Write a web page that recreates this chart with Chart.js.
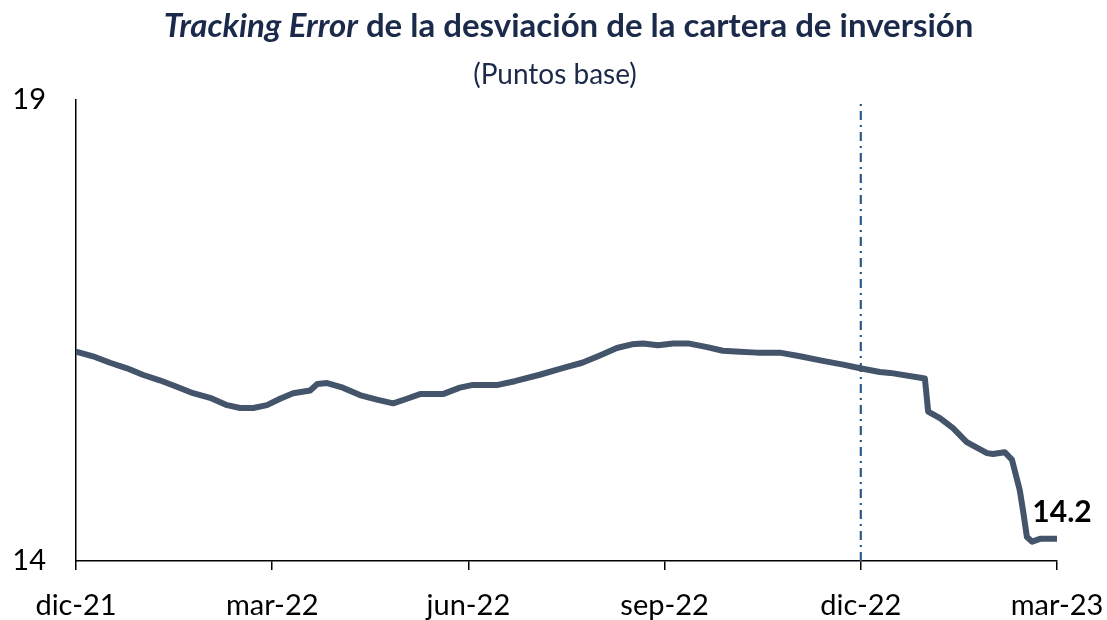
<!DOCTYPE html>
<html>
<head>
<meta charset="utf-8">
<script src="https://cdn.jsdelivr.net/npm/chart.js@4"></script>
<style>
  html, body { margin: 0; padding: 0; background: #fff; }
  #wrap { position: relative; width: 1107px; height: 620px; }
  #title {
    position: absolute; left: 76px; width: 985px; top: 4px;
    text-align: center; font-family: Lato, 'Open Sans', sans-serif;
    font-weight: bold; font-size: 33px; color: #1b2a4a; white-space: nowrap;
  }
  #subtitle {
    position: absolute; left: 0; width: 1110px; top: 56px;
    text-align: center; font-family: Lato, 'Open Sans', sans-serif;
    font-size: 28px; color: #1b2a4a;
  }
  canvas { position: absolute; left: 0; top: 0; }
</style>
</head>
<body>
<div id="wrap">
  <canvas id="teChart" width="1107" height="620"></canvas>
  <div id="title"><i>Tracking Error</i> de la desviación de la cartera de inversión</div>
  <div id="subtitle">(Puntos base)</div>
</div>
<script>
// x position in months counted from dic-21
const monthPos = [0, 0.26, 0.52, 0.78, 1.02, 1.28, 1.54, 1.79, 2.05, 2.31, 2.51, 2.71, 2.92, 3.12, 3.32,
  3.58, 3.69, 3.84, 4.08, 4.34, 4.60, 4.85, 5.06, 5.26, 5.61, 5.87, 6.07, 6.45, 6.71, 7.09, 7.48,
  7.74, 8.01, 8.27, 8.50, 8.67, 8.90, 9.13, 9.36, 9.65, 9.89, 10.15, 10.41, 10.76, 11.07, 11.42,
  11.73, 11.99, 12.29, 12.45, 12.98, 13.03, 13.21, 13.41, 13.62, 13.93, 14.02, 14.20, 14.31,
  14.43, 14.48, 14.54, 14.62, 14.74, 15.0];
const teValues = [16.27, 16.22, 16.15, 16.09, 16.02, 15.96, 15.89, 15.82, 15.77, 15.69, 15.66, 15.66,
  15.69, 15.76, 15.82, 15.85, 15.92, 15.93, 15.88, 15.80, 15.75, 15.71, 15.76, 15.81, 15.81, 15.88,
  15.91, 15.91, 15.95, 16.02, 16.10, 16.15, 16.23, 16.31, 16.35, 16.36, 16.34, 16.36, 16.36, 16.32,
  16.28, 16.27, 16.26, 16.26, 16.22, 16.17, 16.13, 16.09, 16.05, 16.04, 15.98, 15.62, 15.55, 15.44,
  15.29, 15.17, 15.16, 15.18, 15.10, 14.77, 14.55, 14.26, 14.21, 14.24, 14.24];
const xTickLabels = ['dic-21', 'mar-22', 'jun-22', 'sep-22', 'dic-22', 'mar-23'];
const yTickValues = [14, 19];
const markerMonth = 12;   // dic-22 reference line
const lastLabel = '14.2';

const fontFamily = "Lato, 'Open Sans', sans-serif";

const endLabelPlugin = {
  id: 'endLabel',
  afterDatasetsDraw(chart) {
    const meta = chart.getDatasetMeta(0);
    const pt = meta.data[meta.data.length - 1];
    const ctx = chart.ctx;
    ctx.save();
    ctx.font = 'bold 30px ' + fontFamily;
    ctx.fillStyle = '#000';
    ctx.textAlign = 'center';
    ctx.textBaseline = 'middle';
    ctx.fillText(lastLabel, pt.x + 5, pt.y - 27);
    ctx.restore();
  }
};

const ctx = document.getElementById('teChart').getContext('2d');
new Chart(ctx, {
  type: 'line',
  data: {
    datasets: [{
      data: monthPos.map((m, i) => ({ x: m, y: teValues[i] })),
      borderColor: '#44546a',
      borderWidth: 6,
      pointRadius: 0,
      tension: 0,
      borderJoinStyle: 'round',
      borderCapStyle: 'round'
    }, {
      data: [{ x: markerMonth, y: yTickValues[0] }, { x: markerMonth, y: yTickValues[1] }],
      borderColor: '#2b5a8a',
      borderWidth: 2.2,
      borderDash: [9, 5, 2, 5],
      pointRadius: 0
    }]
  },
  options: {
    responsive: false,
    animation: false,
    layout: { padding: { top: 100, right: 50, left: 0, bottom: 0 } },
    plugins: { legend: { display: false }, tooltip: { enabled: false } },
    scales: {
      x: {
        type: 'linear',
        min: 0,
        max: 15,
        afterFit: s => { s.height = 59; s.paddingLeft = 0; s.paddingRight = 0; },
        afterBuildTicks: s => { s.ticks = xTickLabels.map((_, i) => ({ value: i * 3 })); },
        ticks: {
          autoSkip: false,
          maxRotation: 0,
          padding: 18,
          color: '#000',
          font: { family: fontFamily, size: 29 },
          callback: v => xTickLabels[Math.round(v / 3)]
        },
        grid: { drawOnChartArea: false, drawTicks: true, tickLength: 9, color: '#000', lineWidth: 1.5 },
        border: { display: true, color: '#000', width: 1.5 }
      },
      y: {
        min: 14,
        max: 19,
        afterFit: s => { s.width = 76; },
        afterBuildTicks: s => { s.ticks = yTickValues.map(v => ({ value: v })); },
        ticks: {
          padding: 22,
          color: '#000',
          font: { family: fontFamily, size: 29 }
        },
        grid: { display: false },
        border: { display: true, color: '#000', width: 1.5 }
      }
    }
  },
  plugins: [endLabelPlugin]
});
</script>
</body>
</html>
